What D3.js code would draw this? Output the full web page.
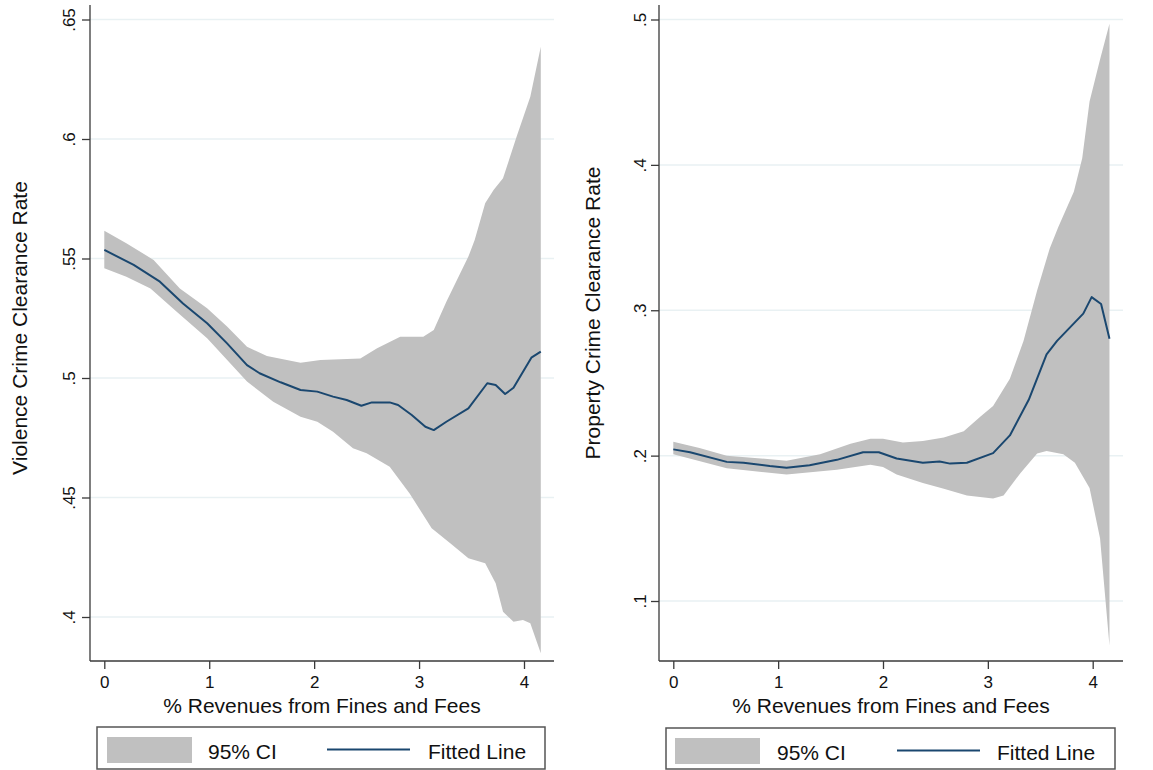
<!DOCTYPE html>
<html>
<head>
<meta charset="utf-8">
<script src="https://cdn.jsdelivr.net/npm/d3@7/dist/d3.min.js"></script>
<style>
  html, body { margin: 0; padding: 0; background: #fff; }
  svg { display: block; }
  text { font-family: "Liberation Sans", Arial, Helvetica, sans-serif; fill: #111; }
</style>
</head>
<body>
<svg id="chart" width="1153" height="770"></svg>
<script>
// ---- Violent crime panel: local fit of clearance rate on % revenues from fines ----
const violentFitX = [0, 0.28, 0.53, 0.75, 0.98, 1.17, 1.36, 1.48, 1.68, 1.87, 2.03, 2.18, 2.31, 2.45, 2.55, 2.72, 2.80, 2.93, 3.06, 3.14, 3.26, 3.47, 3.65, 3.73, 3.82, 3.90, 4.07, 4.16];
const violentFitY = [0.5536, 0.5473, 0.5403, 0.5312, 0.5229, 0.5145, 0.5054, 0.5020, 0.4982, 0.4950, 0.4943, 0.4922, 0.4908, 0.4884, 0.4898, 0.4898, 0.4887, 0.4845, 0.4796, 0.4782, 0.4817, 0.4873, 0.4978, 0.4971, 0.4933, 0.4959, 0.5085, 0.5110];
const violentHiX = [0, 0.21, 0.47, 0.72, 0.98, 1.17, 1.36, 1.55, 1.87, 2.06, 2.44, 2.60, 2.82, 3.04, 3.14, 3.26, 3.47, 3.53, 3.63, 3.71, 3.80, 3.93, 4.06, 4.16];
const violentHiY = [0.5616, 0.5564, 0.5494, 0.5375, 0.5292, 0.5215, 0.5131, 0.5092, 0.5064, 0.5075, 0.5082, 0.5124, 0.5173, 0.5173, 0.5201, 0.5319, 0.5508, 0.5577, 0.5731, 0.5787, 0.5836, 0.6010, 0.6177, 0.6386];
const violentLoX = [0, 0.21, 0.44, 0.69, 0.98, 1.36, 1.61, 1.87, 2.03, 2.18, 2.37, 2.50, 2.72, 2.91, 3.12, 3.30, 3.47, 3.63, 3.73, 3.80, 3.90, 3.99, 4.06, 4.16];
const violentLoY = [0.5459, 0.5424, 0.5375, 0.5277, 0.5166, 0.4985, 0.4901, 0.4838, 0.4817, 0.4775, 0.4706, 0.4685, 0.4629, 0.4517, 0.4371, 0.4308, 0.4246, 0.4225, 0.4141, 0.4022, 0.3980, 0.3987, 0.3974, 0.3848];
const violentTicksY = [0.4, 0.45, 0.5, 0.55, 0.6, 0.65];
const violentTickLabels = [".4", ".45", ".5", ".55", ".6", ".65"];

// ---- Property crime panel ----
const propertyFitX = [0, 0.16, 0.51, 0.67, 0.92, 1.08, 1.30, 1.56, 1.81, 1.96, 2.13, 2.38, 2.54, 2.64, 2.80, 3.05, 3.21, 3.39, 3.56, 3.66, 3.91, 3.99, 4.08, 4.16];
const propertyFitY = [0.2043, 0.2023, 0.1957, 0.1951, 0.1928, 0.1916, 0.1934, 0.1971, 0.2023, 0.2023, 0.1980, 0.1951, 0.1960, 0.1945, 0.1951, 0.2017, 0.2139, 0.2384, 0.2697, 0.2789, 0.2977, 0.3090, 0.3043, 0.2804];
const propertyHiX = [0, 0.25, 0.51, 1.08, 1.40, 1.69, 1.88, 2.00, 2.19, 2.38, 2.58, 2.77, 2.93, 3.05, 3.21, 3.34, 3.47, 3.59, 3.67, 3.82, 3.90, 3.97, 4.07, 4.16];
const propertyHiY = [0.2095, 0.2052, 0.2000, 0.1965, 0.2009, 0.2081, 0.2116, 0.2116, 0.2090, 0.2101, 0.2124, 0.2168, 0.2269, 0.2341, 0.2529, 0.2789, 0.3136, 0.3425, 0.3569, 0.3815, 0.4046, 0.4436, 0.4725, 0.4971];
const propertyLoX = [0, 0.51, 1.08, 1.56, 1.88, 2.00, 2.13, 2.38, 2.58, 2.80, 3.05, 3.15, 3.31, 3.47, 3.56, 3.72, 3.83, 3.97, 4.07, 4.16];
const propertyLoY = [0.2009, 0.1913, 0.1870, 0.1902, 0.1937, 0.1922, 0.1870, 0.1812, 0.1772, 0.1726, 0.1705, 0.1726, 0.1879, 0.2015, 0.2032, 0.2009, 0.1951, 0.1778, 0.1431, 0.0694];
const propertyTicksY = [0.1, 0.2, 0.3, 0.4, 0.5];
const propertyTickLabels = [".1", ".2", ".3", ".4", ".5"];

// ---- Shared ----
const xTicks = [0, 1, 2, 3, 4];
const xTickLabels = ["0", "1", "2", "3", "4"];
const xTitle = "% Revenues from Fines and Fees";
const legendLabels = ["95% CI", "Fitted Line"];

const CI_FILL = "#c0c0c0";
const FIT_COLOR = "#1a476f";
const GRID_COLOR = "#e9f1f3";
const AXIS_COLOR = "#3a3a3a";

const svg = d3.select("#chart");

function drawPanel(p) {
  const g = svg.append("g");
  const x = d3.scaleLinear().domain([0, 4]).range([p.x0, p.x4]);
  const y = d3.scaleLinear().domain(p.yDomain).range(p.yRange);

  // region bounds in data units
  const left = x.invert(p.axisLeft), right = x.invert(p.axisRight);
  const top = y.invert(p.axisTop), bottom = y.invert(p.axisBottom);

  // horizontal grid lines
  g.selectAll("line.grid").data(p.ticksY).join("line")
    .attr("x1", x(left)).attr("x2", x(right))
    .attr("y1", d => y(d)).attr("y2", d => y(d))
    .attr("stroke", GRID_COLOR).attr("stroke-width", 1.5);

  // confidence band: upper edge left-to-right, lower edge back
  const band = p.hiX.map((d, i) => [d, p.hiY[i]])
    .concat(p.loX.map((d, i) => [d, p.loY[i]]).reverse());
  g.append("path")
    .attr("d", d3.line().x(d => x(d[0])).y(d => y(d[1])).curve(d3.curveLinearClosed)(band))
    .attr("fill", CI_FILL).attr("stroke", "none");

  // fitted line
  const fit = p.fitX.map((d, i) => [d, p.fitY[i]]);
  g.append("path")
    .attr("d", d3.line().x(d => x(d[0])).y(d => y(d[1]))(fit))
    .attr("fill", "none").attr("stroke", FIT_COLOR).attr("stroke-width", 2)
    .attr("stroke-linejoin", "round");

  // y axis
  const yAxis = d3.axisLeft(y).tickValues(p.ticksY).tickSize(8)
    .tickFormat((d, i) => p.tickLabels[i]);
  const ya = g.append("g").attr("transform", `translate(${x(left)},0)`).call(yAxis);
  ya.select(".domain").remove();
  ya.selectAll(".tick line").attr("stroke", AXIS_COLOR).attr("stroke-width", 1.3);
  ya.selectAll(".tick text")
    .attr("x", null).attr("dy", null)
    .attr("transform", `translate(${-p.yLabelOffset},0) rotate(-90)`)
    .attr("text-anchor", "middle")
    .attr("font-size", 17)
    .attr("fill", "#111");
  g.append("line")
    .attr("x1", x(left)).attr("x2", x(left))
    .attr("y1", y(top)).attr("y2", y(bottom))
    .attr("stroke", AXIS_COLOR).attr("stroke-width", 1.3);

  // x axis
  const xAxis = d3.axisBottom(x).tickValues(xTicks).tickSize(8)
    .tickFormat((d, i) => xTickLabels[i]);
  const xa = g.append("g").attr("transform", `translate(0,${y(bottom)})`).call(xAxis);
  xa.select(".domain").remove();
  xa.selectAll(".tick line").attr("stroke", AXIS_COLOR).attr("stroke-width", 1.3);
  xa.selectAll(".tick text")
    .attr("y", 27).attr("dy", null)
    .attr("font-size", 17).attr("fill", "#111");
  g.append("line")
    .attr("x1", x(left)).attr("x2", x(right))
    .attr("y1", y(bottom)).attr("y2", y(bottom))
    .attr("stroke", AXIS_COLOR).attr("stroke-width", 1.3);

  // axis titles
  g.append("text")
    .attr("x", (x(left) + x(right)) / 2).attr("y", p.xTitleY)
    .attr("text-anchor", "middle").attr("font-size", 21)
    .text(xTitle);
  g.append("text")
    .attr("transform", `translate(${p.yTitleX},${p.yTitleMid}) rotate(-90)`)
    .attr("text-anchor", "middle").attr("font-size", 21)
    .text(p.yTitle);

  // legend
  const L = p.legend;
  const lg = g.append("g");
  lg.append("rect")
    .attr("x", L.x).attr("y", L.y).attr("width", L.w).attr("height", L.h)
    .attr("fill", "#fff").attr("stroke", "#555").attr("stroke-width", 1.5);
  lg.append("rect")
    .attr("x", L.swX).attr("y", L.y + 10).attr("width", 85).attr("height", 26)
    .attr("fill", CI_FILL);
  lg.append("text")
    .attr("x", L.ciText).attr("y", L.y + 31.5).attr("font-size", 21)
    .text(legendLabels[0]);
  lg.append("line")
    .attr("x1", L.lnX).attr("x2", L.lnX + 83)
    .attr("y1", L.y + 22.5).attr("y2", L.y + 22.5)
    .attr("stroke", FIT_COLOR).attr("stroke-width", 2);
  lg.append("text")
    .attr("x", L.fitText).attr("y", L.y + 31.5).attr("font-size", 21)
    .text(legendLabels[1]);
}

drawPanel({
  x0: 104.3, x4: 524,
  yDomain: [0.4, 0.65], yRange: [617, 19.5],
  axisLeft: 90, axisRight: 554, axisTop: 5, axisBottom: 661,
  ticksY: violentTicksY, tickLabels: violentTickLabels, yLabelOffset: 15,
  fitX: violentFitX, fitY: violentFitY,
  hiX: violentHiX, hiY: violentHiY, loX: violentLoX, loY: violentLoY,
  xTitleY: 713,
  yTitle: "Violence Crime Clearance Rate", yTitleX: 27, yTitleMid: 328,
  legend: { x: 97, y: 727, w: 448, h: 42, swX: 107, ciText: 208, lnX: 327, fitText: 428 }
});

drawPanel({
  x0: 673.3, x4: 1092.7,
  yDomain: [0.1, 0.5], yRange: [601, 19.5],
  axisLeft: 659, axisRight: 1123, axisTop: 5, axisBottom: 661,
  ticksY: propertyTicksY, tickLabels: propertyTickLabels, yLabelOffset: 13,
  fitX: propertyFitX, fitY: propertyFitY,
  hiX: propertyHiX, hiY: propertyHiY, loX: propertyLoX, loY: propertyLoY,
  xTitleY: 713,
  yTitle: "Property Crime Clearance Rate", yTitleX: 600, yTitleMid: 313,
  legend: { x: 666, y: 728, w: 449, h: 41, swX: 675, ciText: 777, lnX: 897, fitText: 997 }
});
</script>
</body>
</html>
